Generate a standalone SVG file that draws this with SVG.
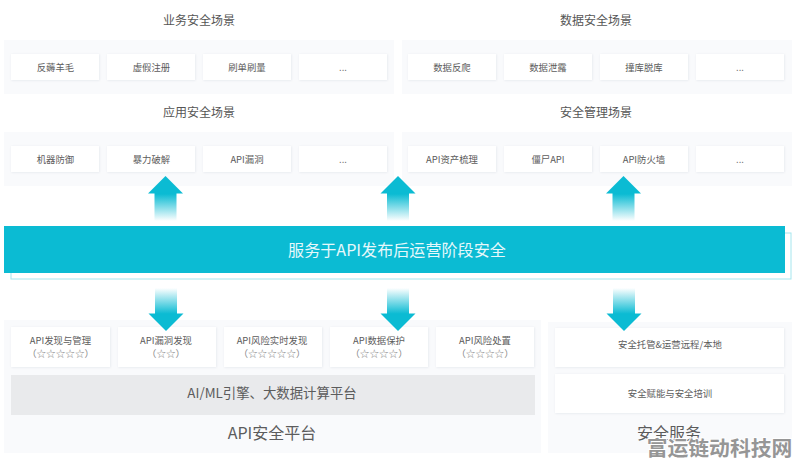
<svg xmlns="http://www.w3.org/2000/svg" width="796" height="466" viewBox="0 0 796 466">
<style>
text{font-family:"Noto Sans CJK SC","Noto Sans",sans-serif;text-anchor:middle;fill:#5c5c5c}
.panel{fill:#f9fafc}
.card{fill:#fff;filter:url(#sh)}
.t{font-size:12px;fill:#555}
.c{font-size:9.400px}
.s{font-size:9.600px;fill:#888}
</style>
<defs>
<filter id="sh" x="-10%" y="-20%" width="120%" height="140%"><feDropShadow dx="0.5" dy="0.5" stdDeviation="0.8" flood-color="#dfe2e9" flood-opacity="0.8"/></filter>
<linearGradient id="up" x1="0" y1="1" x2="0" y2="0"><stop offset="0" stop-color="#0bbbd3" stop-opacity="0"/><stop offset="0.6" stop-color="#0bbbd3"/></linearGradient>
<linearGradient id="dn" x1="0" y1="0" x2="0" y2="1"><stop offset="0" stop-color="#0bbbd3" stop-opacity="0"/><stop offset="0.6" stop-color="#0bbbd3"/></linearGradient>
<path id="ua" d="M0 0L17.500 17.500 11 17.500 11 45 -11 45 -11 17.500 -17.500 17.500Z" fill="url(#up)"/>
<path id="da" d="M0 0L17.500 -17.500 11 -17.500 11 -43 -11 -43 -11 -17.500 -17.500 -17.500Z" fill="url(#dn)"/>
</defs>
<rect width="796" height="466" fill="#fff"/>

<g id="scene-business">
<text class="t" x="199" y="25">业务安全场景</text>
<rect class="panel" x="4" y="40" width="390" height="54"/>
<rect class="card" x="11" y="54" width="88" height="26"/><text class="c" x="55.500" y="71">反薅羊毛</text>
<rect class="card" x="107" y="54" width="88" height="26"/><text class="c" x="151.500" y="71">虚假注册</text>
<rect class="card" x="203" y="54" width="88" height="26"/><text class="c" x="247" y="71">刷单刷量</text>
<rect class="card" x="299" y="54" width="88" height="26"/><text class="c" x="343" y="71">...</text>
</g>
<g id="scene-data">
<text class="t" x="596" y="25">数据安全场景</text>
<rect class="panel" x="402" y="40" width="390" height="54"/>
<rect class="card" x="408" y="54" width="88" height="26"/><text class="c" x="452" y="71">数据反爬</text>
<rect class="card" x="504" y="54" width="88" height="26"/><text class="c" x="548" y="71">数据泄露</text>
<rect class="card" x="600" y="54" width="88" height="26"/><text class="c" x="644" y="71">撞库脱库</text>
<rect class="card" x="696" y="54" width="88" height="26"/><text class="c" x="740" y="71">...</text>
</g>
<g id="scene-app">
<text class="t" x="199" y="117">应用安全场景</text>
<rect class="panel" x="4" y="132" width="390" height="54"/>
<rect class="card" x="11" y="146" width="88" height="26"/><text class="c" x="55.500" y="163">机器防御</text>
<rect class="card" x="107" y="146" width="88" height="26"/><text class="c" x="151.500" y="163">暴力破解</text>
<rect class="card" x="203" y="146" width="88" height="26"/><text class="c" x="247" y="163">API漏洞</text>
<rect class="card" x="299" y="146" width="88" height="26"/><text class="c" x="343" y="163">...</text>
</g>
<g id="scene-mgmt">
<text class="t" x="596" y="117">安全管理场景</text>
<rect class="panel" x="402" y="132" width="390" height="54"/>
<rect class="card" x="408" y="146" width="88" height="26"/><text class="c" x="452" y="163">API资产梳理</text>
<rect class="card" x="504" y="146" width="88" height="26"/><text class="c" x="548" y="163">僵尸API</text>
<rect class="card" x="600" y="146" width="88" height="26"/><text class="c" x="644" y="163">API防火墙</text>
<rect class="card" x="696" y="146" width="88" height="26"/><text class="c" x="740" y="163">...</text>
</g>

<g id="platform">
<rect class="panel" x="4" y="320" width="537" height="133"/>
<rect class="card" x="11" y="327" width="99" height="40"/><text class="c" x="60.500" y="344">API发现与管理</text><text class="s" x="60.500" y="357">（☆☆☆☆☆）</text>
<rect class="card" x="118" y="327" width="98" height="40"/><text class="c" x="166" y="344">API漏洞发现</text><text class="s" x="166" y="357">（☆☆）</text>
<rect class="card" x="224" y="327" width="98" height="40"/><text class="c" x="272" y="344">API风险实时发现</text><text class="s" x="272" y="357">（☆☆☆☆☆）</text>
<rect class="card" x="330" y="327" width="98" height="40"/><text class="c" x="379" y="344">API数据保护</text><text class="s" x="379" y="357">（☆☆☆☆）</text>
<rect class="card" x="436" y="327" width="98" height="40"/><text class="c" x="485" y="344">API风险处置</text><text class="s" x="485" y="357">（☆☆☆☆）</text>
<rect x="11" y="375" width="524" height="40" fill="#e9eaec"/>
<text x="272" y="398" font-size="13.400px" fill="#555">AI/ML引擎、大数据计算平台</text>
<text x="272" y="439" font-size="16px" fill="#555">API安全平台</text>
</g>
<g id="service">
<rect class="panel" x="548" y="322" width="244" height="131"/>
<rect class="card" x="555" y="328" width="229" height="39"/><text class="c" x="670" y="348">安全托管&amp;运营远程/本地</text>
<rect class="card" x="555" y="374" width="229" height="39"/><text class="c" x="670" y="397">安全赋能与安全培训</text>
<text x="669" y="439" font-size="16px" fill="#555">安全服务</text>
</g>

<g id="banner">
<rect x="11" y="233" width="780" height="46" fill="#fff" stroke="#a5e6ee" stroke-width="1"/>
<rect x="4" y="226" width="781" height="47" fill="#0bbbd3"/>
<text x="397" y="256" font-size="16.100px" style="fill:#e6f8fb">服务于API发布后运营阶段安全</text>
</g>

<g id="connectors">
<use href="#ua" x="165.500" y="176"/>
<use href="#ua" x="398" y="176"/>
<use href="#ua" x="623.500" y="176"/>
<use href="#da" x="166" y="331"/>
<use href="#da" x="398" y="331"/>
<use href="#da" x="624" y="331"/>
</g>

<text x="719.500" y="456" font-size="20.800px" font-weight="700" style="fill:#969696;paint-order:stroke;stroke:#fff;stroke-width:2px">富运链动科技网</text>
</svg>
